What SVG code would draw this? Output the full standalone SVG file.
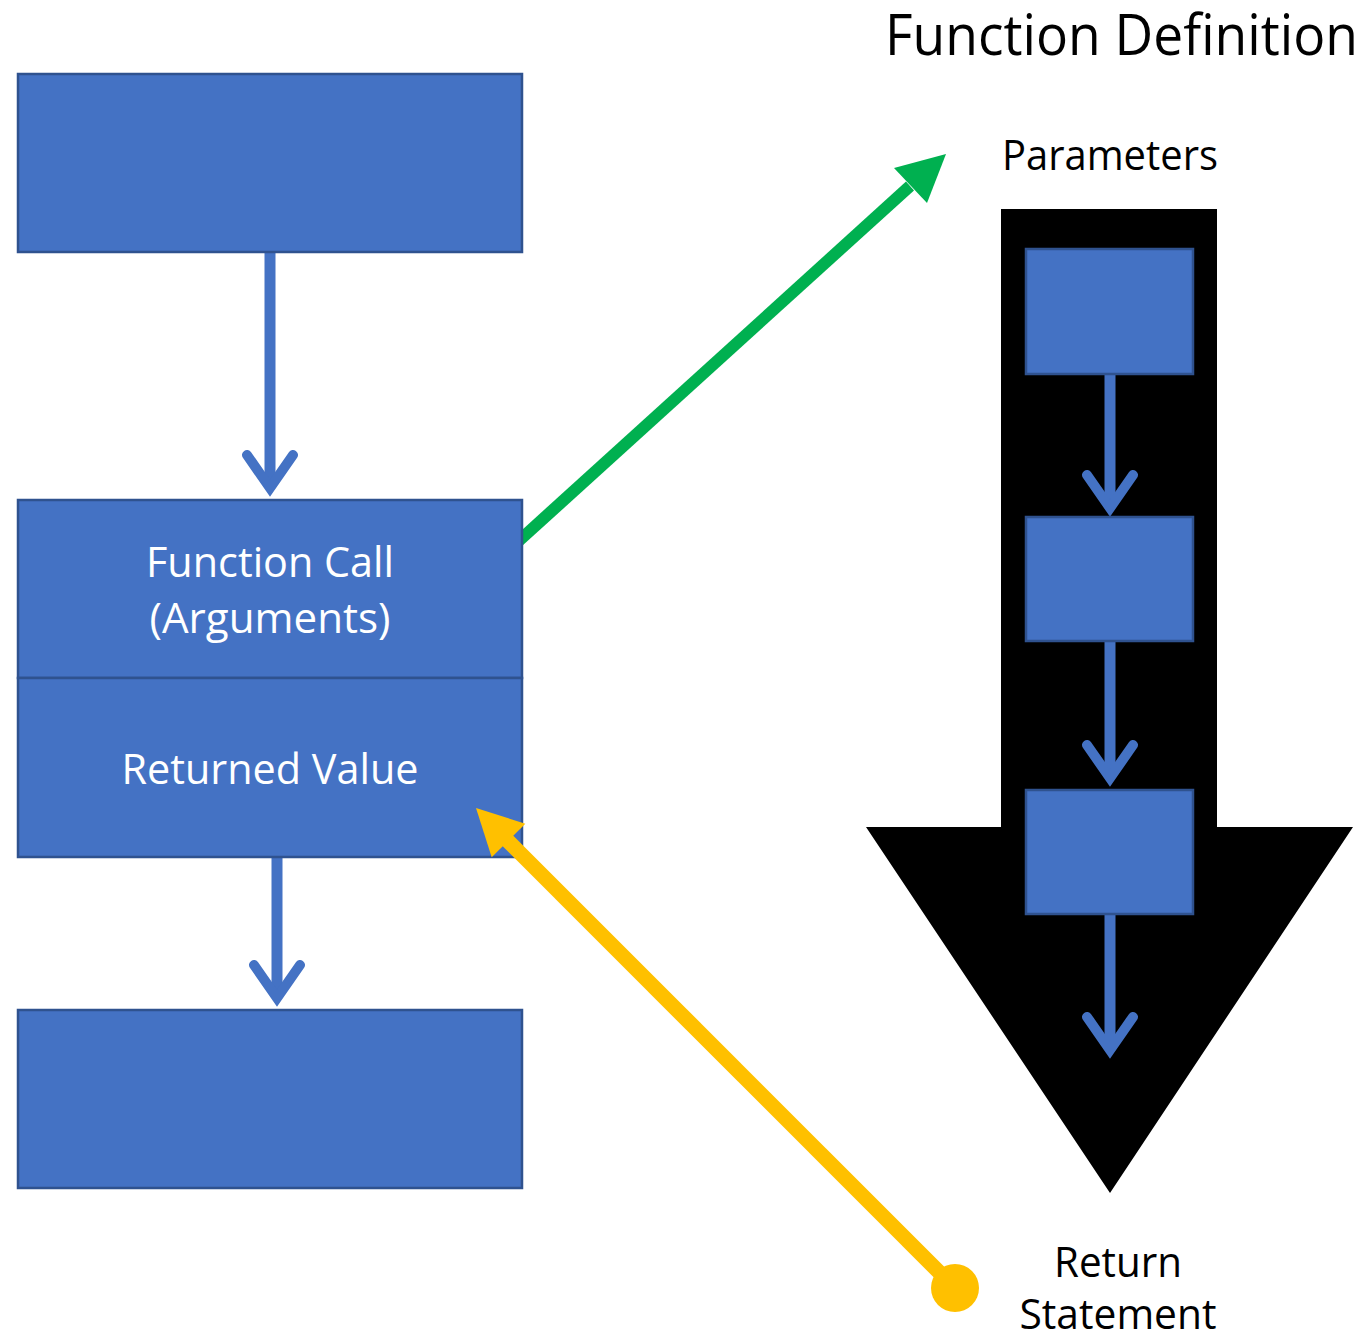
<svg xmlns="http://www.w3.org/2000/svg" width="1371" height="1335" viewBox="0 0 1371 1335">
  <style>
    .box { fill: #4472C4; stroke: #2F528F; stroke-width: 2.5; }
    .flow { fill: none; stroke: #4472C4; stroke-width: 10; stroke-linecap: round; stroke-linejoin: miter; stroke-miterlimit: 10; }
    .shaft { fill: none; stroke: #4472C4; stroke-width: 11; }
    .label { font-family: "Open Sans", "Noto Sans", "Liberation Sans", sans-serif; font-size: 42px; }
    .white { fill: #FFFFFF; }
    .dark { fill: #000000; }
  </style>

  <rect width="1371" height="1335" fill="#FFFFFF"/>

  <!-- Function definition: big block arrow with the body's steps -->
  <g id="definition-arrow">
    <polygon points="1001,209 1217,209 1217,827 1353,827 1110,1193 866,827 1001,827" fill="#000000"/>
  </g>

  <!-- Connectors behind the nodes -->
  <g id="connectors">
    <!-- call flow -->
    <line class="shaft" x1="270" y1="252" x2="270" y2="487"/>
    <polyline class="flow" points="247,455 270,488 293,455"/>
    <line class="shaft" x1="277" y1="857" x2="277" y2="997"/>
    <polyline class="flow" points="254,965 277,998 300,965"/>
    <!-- steps inside the definition -->
    <line class="shaft" x1="1110" y1="373" x2="1110" y2="507"/>
    <polyline class="flow" points="1087,475 1110,508 1133,475"/>
    <line class="shaft" x1="1110" y1="641" x2="1110" y2="777"/>
    <polyline class="flow" points="1087,745 1110,778 1133,745"/>
    <line class="shaft" x1="1110" y1="914" x2="1110" y2="1049"/>
    <polyline class="flow" points="1087,1017 1110,1050 1133,1017"/>
    <!-- arguments passed to parameters -->
    <polygon points="522,529.9 906,181.6 914,190.4 522,546.1" fill="#00B050"/>
    <polygon points="946,154 894,168 927,203" fill="#00B050"/>
  </g>

  <g id="node-before">
    <rect class="box" x="18" y="74" width="504" height="178"/>
  </g>

  <g id="node-call">
    <rect class="box" x="18" y="500" width="504" height="178"/>
    <text class="label white" x="270" y="577" text-anchor="middle" textLength="248" lengthAdjust="spacingAndGlyphs">Function Call</text>
    <text class="label white" x="270" y="633" text-anchor="middle" textLength="241" lengthAdjust="spacingAndGlyphs">(Arguments)</text>
  </g>

  <g id="node-return">
    <rect class="box" x="18" y="678" width="504" height="179"/>
    <text class="label white" x="270" y="784" text-anchor="middle" textLength="297" lengthAdjust="spacingAndGlyphs">Returned Value</text>
  </g>

  <g id="node-after">
    <rect class="box" x="18" y="1010" width="504" height="178"/>
  </g>

  <g id="step-1">
    <rect class="box" x="1026" y="249" width="167" height="125"/>
  </g>
  <g id="step-2">
    <rect class="box" x="1026" y="517" width="167" height="124"/>
  </g>
  <g id="step-3">
    <rect class="box" x="1026" y="790" width="167" height="124"/>
  </g>

  <!-- return value handed back to the call site -->
  <g id="return-connector">
    <line x1="955" y1="1288" x2="506" y2="839" stroke="#FFC000" stroke-width="15"/>
    <polygon points="476,808 525.3,823.7 491.7,857.3" fill="#FFC000"/>
    <circle cx="955" cy="1288" r="24" fill="#FFC000"/>
  </g>

  <g id="labels">
    <text class="label dark" x="885" y="55" style="font-size:56px" textLength="473" lengthAdjust="spacingAndGlyphs">Function Definition</text>
    <text class="label dark" x="1002" y="170" textLength="216" lengthAdjust="spacingAndGlyphs">Parameters</text>
    <text class="label dark" x="1118" y="1277" text-anchor="middle" textLength="128" lengthAdjust="spacingAndGlyphs">Return</text>
    <text class="label dark" x="1118" y="1329" text-anchor="middle" textLength="197" lengthAdjust="spacingAndGlyphs">Statement</text>
  </g>
</svg>
